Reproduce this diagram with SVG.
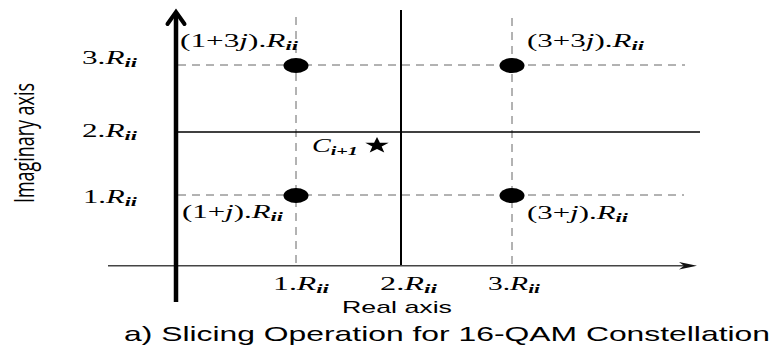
<svg xmlns="http://www.w3.org/2000/svg" width="776" height="349" viewBox="0 0 776 349">
<style>
.m{font-family:"Liberation Serif","Times New Roman",serif;font-size:18px;fill:#000}
.i{font-style:italic}
.s{font-style:italic;font-weight:bold;font-size:13px}
.dash{stroke:#666;stroke-width:1;stroke-dasharray:8,6;fill:none}
.solid{stroke:#000;fill:none}
.sans{font-family:"Liberation Sans",Arial,sans-serif;fill:#000}
</style>
<rect width="776" height="349" fill="#fff"/>
<g id="connectors">
  <line class="dash" x1="296" y1="17" x2="296" y2="266"/>
  <line class="dash" x1="512" y1="18" x2="512" y2="266"/>
  <line class="dash" x1="178" y1="65" x2="685" y2="65"/>
  <line class="dash" x1="178" y1="195" x2="684" y2="195" stroke="#888"/>
  <line class="solid" x1="177" y1="132" x2="700" y2="132" stroke-width="1.5"/>
  <line class="solid" x1="401" y1="10" x2="401" y2="266" stroke-width="2"/>
  <line x1="108" y1="265.7" x2="690" y2="265.7" stroke="#444" stroke-width="1.6"/>
  <path d="M679,262 L697,265.7 L679,269.4 L684,265.7 Z" fill="#111"/>
  <line x1="176" y1="13" x2="176" y2="302" stroke="#000" stroke-width="4.5"/>
  <polyline points="167.5,24 176,12 184.5,24" fill="none" stroke="#000" stroke-width="4" stroke-linecap="round"/>
</g>
<g id="p13"><ellipse cx="296" cy="65.5" rx="12.5" ry="7.5" fill="#000"/><text class="m" x="180" y="47" textLength="118" lengthAdjust="spacingAndGlyphs">(1+3<tspan class="i">j</tspan>).<tspan class="i">R</tspan><tspan class="s" dy="3">ii</tspan></text></g>
<g id="p33"><ellipse cx="512" cy="65.5" rx="12.5" ry="7.5" fill="#000"/><text class="m" x="527" y="47" textLength="117" lengthAdjust="spacingAndGlyphs">(3+3<tspan class="i">j</tspan>).<tspan class="i">R</tspan><tspan class="s" dy="3">ii</tspan></text></g>
<g id="p11"><ellipse cx="296" cy="195.5" rx="12.5" ry="7.5" fill="#000"/><text class="m" x="182" y="218" textLength="101" lengthAdjust="spacingAndGlyphs">(1+<tspan class="i">j</tspan>).<tspan class="i">R</tspan><tspan class="s" dy="3">ii</tspan></text></g>
<g id="p31"><ellipse cx="512" cy="195.5" rx="12.5" ry="7.5" fill="#000"/><text class="m" x="527" y="219" textLength="101" lengthAdjust="spacingAndGlyphs">(3+<tspan class="i">j</tspan>).<tspan class="i">R</tspan><tspan class="s" dy="3">ii</tspan></text></g>
<g id="c">
  <polygon transform="translate(377,145.5) scale(1.45,1)" points="0,-8.5 2,-2.75 8.08,-2.63 3.23,1.05 5,6.88 0,3.4 -5,6.88 -3.23,1.05 -8.08,-2.63 -2,-2.75" fill="#000"/>
  <text class="m" x="312" y="152" textLength="46" lengthAdjust="spacingAndGlyphs"><tspan class="i">C</tspan><tspan class="s" dy="3">i+1</tspan></text>
</g>
<g id="ylabels">
  <text class="m" x="82" y="64" textLength="55" lengthAdjust="spacingAndGlyphs">3.<tspan class="i">R</tspan><tspan class="s" dy="3">ii</tspan></text>
  <text class="m" x="82" y="137" textLength="55" lengthAdjust="spacingAndGlyphs">2.<tspan class="i">R</tspan><tspan class="s" dy="3">ii</tspan></text>
  <text class="m" x="83" y="203" textLength="54" lengthAdjust="spacingAndGlyphs">1.<tspan class="i">R</tspan><tspan class="s" dy="3">ii</tspan></text>
</g>
<g id="xlabels">
  <text class="m" x="273" y="290" textLength="56" lengthAdjust="spacingAndGlyphs">1.<tspan class="i">R</tspan><tspan class="s" dy="3">ii</tspan></text>
  <text class="m" x="380" y="290" textLength="57" lengthAdjust="spacingAndGlyphs">2.<tspan class="i">R</tspan><tspan class="s" dy="3">ii</tspan></text>
  <text class="m" x="488" y="290" textLength="52" lengthAdjust="spacingAndGlyphs">3.<tspan class="i">R</tspan><tspan class="s" dy="3">ii</tspan></text>
</g>
<g id="titles">
  <text class="sans" x="342" y="313" font-size="17" textLength="110" lengthAdjust="spacingAndGlyphs">Real axis</text>
  <text font-family="'Open Sans','Noto Sans',sans-serif" font-size="27" fill="#000" transform="translate(34,203) rotate(-90)" textLength="120" lengthAdjust="spacingAndGlyphs">Imaginary axis</text>
  <text class="sans" x="124" y="341" font-size="21" textLength="646" lengthAdjust="spacingAndGlyphs">a) Slicing Operation for 16-QAM Constellation</text>
</g>
</svg>
